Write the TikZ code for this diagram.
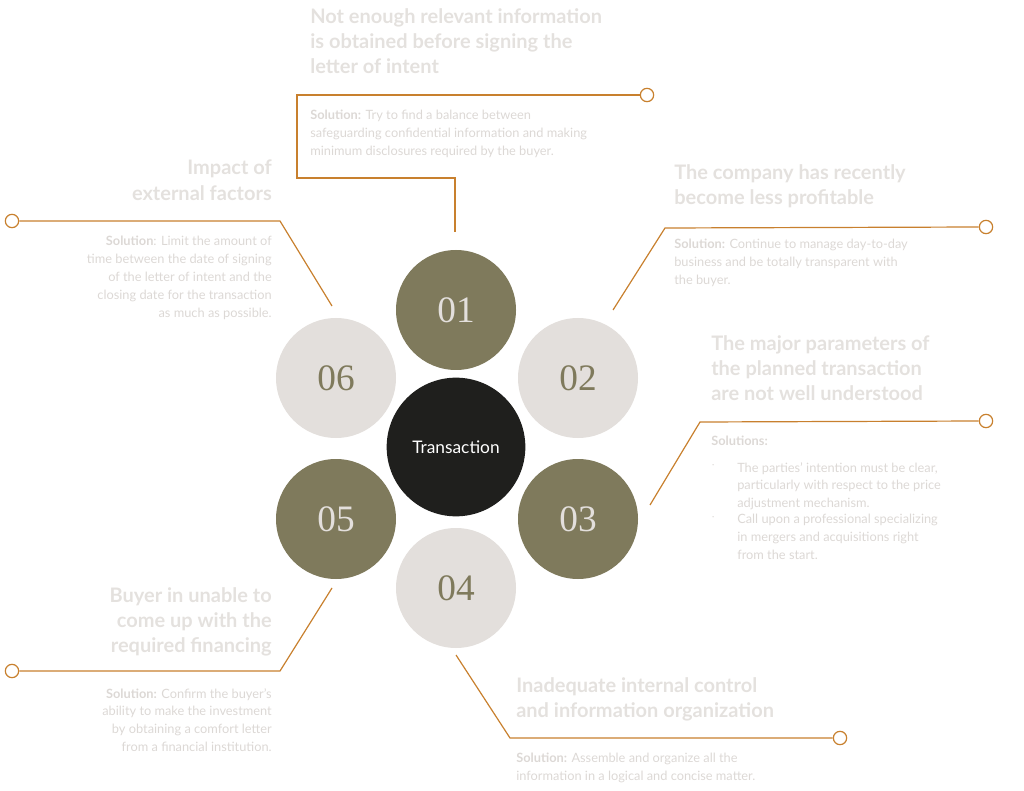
\documentclass[tikz,border=0pt]{standalone}
\usepackage{fontspec}
\setmainfont{Lato}
\definecolor{olive}{HTML}{7F7A5C}
\definecolor{pale}{HTML}{E3DFDC}
\definecolor{dark}{HTML}{1F1F1D}
\definecolor{ln}{HTML}{C8802E}
\definecolor{hd}{HTML}{E4E1DE}
\definecolor{bd}{HTML}{DCD8D5}
\begin{document}
\begin{tikzpicture}[x=0.75pt,y=-0.75pt,
  oc/.style={circle,fill=olive,minimum size=90pt,inner sep=0,text=pale,font=\fontspec{Liberation Serif}\fontsize{28}{28}\selectfont},
  pc/.style={circle,fill=pale,minimum size=90pt,inner sep=0,text=olive,font=\fontspec{Liberation Serif}\fontsize{28}{28}\selectfont},
  conn/.style={draw=ln,line width=0.9pt},
  end/.style={circle,draw=ln,line width=0.9pt,fill=white,minimum size=10pt,inner sep=0},
  head/.style={inner sep=0,text=hd,font=\bfseries\fontsize{15}{18.8}\selectfont},
  body/.style={inner sep=0,text=bd,font=\fontsize{9.6}{13.4}\selectfont}]
\useasboundingbox (0,0) rectangle (1024,791);
\node[oc] (c1) at (456,310) {01};
\node[pc] (c2) at (578,378) {02};
\node[oc] (c3) at (578,519) {03};
\node[pc] (c4) at (456,588) {04};
\node[oc] (c5) at (336,519) {05};
\node[pc] (c6) at (336,378) {06};
\node[circle,fill=dark,minimum size=104pt,text=white,font=\fontsize{13}{13}\selectfont] (t) at (456,447) {Transaction};
% endpoints
\node[end] (e1) at (647,95) {};
\node[end] (e2) at (986,227) {};
\node[end] (e3) at (986,421) {};
\node[end] (e4) at (840,738) {};
\node[end] (e5) at (12,671) {};
\node[end] (e6) at (12,221) {};
\draw[conn] (455,232) -- (455,178) -- (297,178) -- (297,95) -- (e1.west);
\draw[conn] (613,310) -- (665,228) -- (e2.west);
\draw[conn] (650,505) -- (700,422) -- (e3.west);
\draw[conn] (456,655) -- (510,738) -- (e4.west);
\draw[conn] (332,588) -- (280,671) -- (e5.east);
\draw[conn] (332,306) -- (280,221) -- (e6.east);
% texts
\node[head,anchor=north west,align=left] (h1) at (310,8) {Not enough relevant information\\is obtained before signing the\\letter of intent};
\node[body,anchor=north west,align=left] (b1) at (310,110) {\textbf{Solution:} Try to find a balance between\\safeguarding confidential information and making\\minimum disclosures required by the buyer.};
\node[head,anchor=north west,align=left] (h2) at (674,164) {The company has recently\\become less profitable};
\node[body,anchor=north west,align=left] (b2) at (674,239) {\textbf{Solution:} Continue to manage day-to-day\\business and be totally transparent with\\the buyer.};
\node[head,anchor=north west,align=left] (h3) at (711,335) {The major parameters of\\the planned transaction\\are not well understood};
\node[body,anchor=north west,align=left] (b3) at (711,436) {\textbf{Solutions:}};
\node[body,anchor=north west,align=left] at (711,462) {$\cdot$};
\node[body,anchor=north west,align=left] (b3a) at (737,462) {The parties' intention must be clear,\\particularly with respect to the price\\adjustment mechanism.};
\node[body,anchor=north west,align=left] at (711,514) {$\cdot$};
\node[body,anchor=north west,align=left] (b3b) at (737,514) {Call upon a professional specializing\\in mergers and acquisitions right\\from the start.};
\node[head,anchor=north west,align=left] (h4) at (516,677) {Inadequate internal control\\and information organization};
\node[body,anchor=north west,align=left] (b4) at (516,753) {\textbf{Solution:} Assemble and organize all the\\information in a logical and concise matter.};
\node[head,anchor=north east,align=right] (h5) at (272,587) {Buyer in unable to\\come up with the\\required financing};
\node[body,anchor=north east,align=right] (b5) at (272,688) {\textbf{Solution:} Confirm the buyer's\\ability to make the investment\\by obtaining a comfort letter\\from a financial institution.};
\node[head,anchor=north east,align=right] (h6) at (272,160) {Impact of\\external factors};
\node[body,anchor=north east,align=right] (b6) at (272,236) {\textbf{Solution}: Limit the amount of\\time between the date of signing\\of the letter of intent and the\\closing date for the transaction\\as much as possible.};
\end{tikzpicture}
\end{document}
